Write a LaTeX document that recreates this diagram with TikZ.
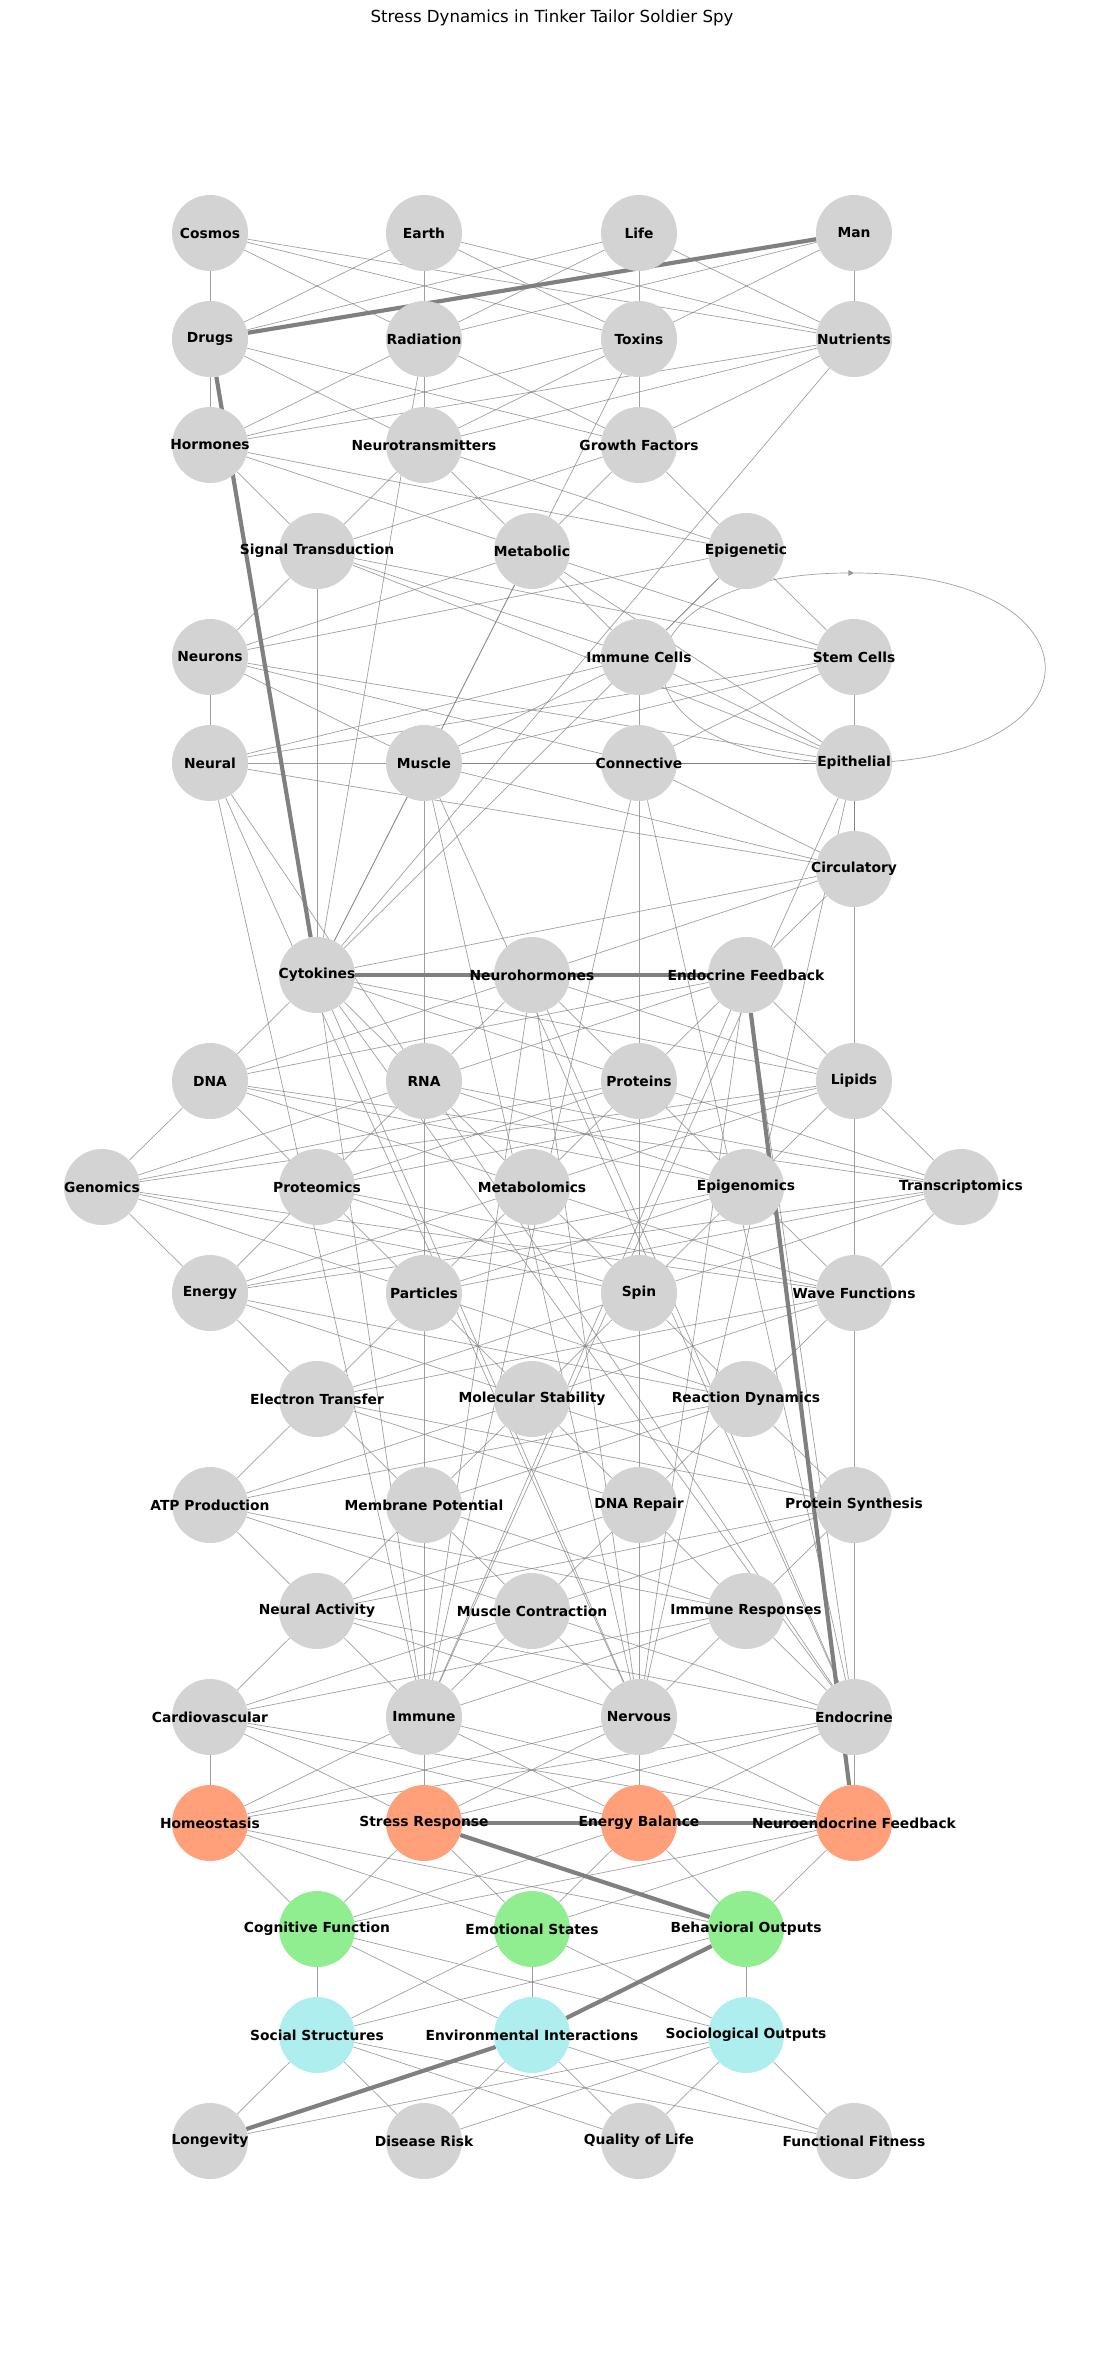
\documentclass[tikz,border=0pt]{standalone}
\usepackage{fontspec}
\setmainfont{DejaVu Sans}
\usetikzlibrary{arrows.meta, calc, backgrounds}
\definecolor{cNode}{HTML}{D3D3D3}
\definecolor{cStress}{HTML}{FFA07A}
\definecolor{cMind}{HTML}{90EE90}
\definecolor{cSocial}{HTML}{AFEEEE}
\definecolor{cLink}{HTML}{808080}
\tikzset{
	entity/.style     ={circle, fill=cNode, minimum size=19.3mm, inner sep=0pt},
	stressnode/.style ={entity, fill=cStress},
	mindnode/.style   ={entity, fill=cMind},
	socialnode/.style ={entity, fill=cSocial},
	every label/.style={font=\bfseries\fontsize{10}{12}\selectfont, inner sep=0pt},
	% connector styles
	tie/.style        ={draw=cLink, line width=0.5pt, opacity=0.75},
	pathway/.style    ={draw=cLink, line width=3pt},
}

\begin{document}
\begin{tikzpicture}[x=0.254mm, y=-0.254mm]
	\useasboundingbox (0,0) rectangle (1105,2353);
	\node[font=\fontsize{12}{14}\selectfont] (title) at (552,18) {Stress Dynamics in Tinker Tailor Soldier Spy};
	% origins
	\node[entity, label=center:Cosmos] (cosmos) at (210,233) {};
	\node[entity, label=center:Earth] (earth) at (424,233) {};
	\node[entity, label=center:Life] (life) at (639,233) {};
	\node[entity, label=center:Man] (man) at (854,233) {};
	% stressors
	\node[entity, label=center:Drugs] (drugs) at (210,339) {};
	\node[entity, label=center:Radiation] (radiation) at (424,339) {};
	\node[entity, label=center:Toxins] (toxins) at (639,339) {};
	\node[entity, label=center:Nutrients] (nutrients) at (854,339) {};
	% messengers
	\node[entity, label=center:Hormones] (hormones) at (210,445) {};
	\node[entity, label=center:Neurotransmitters] (neurotrans) at (424,445) {};
	\node[entity, label=center:Growth Factors] (growth) at (639,445) {};
	% pathways
	\node[entity, label=center:Signal Transduction] (signal) at (317,551) {};
	\node[entity, label=center:Metabolic] (metabolic) at (532,551) {};
	\node[entity, label=center:Epigenetic] (epigenetic) at (746,551) {};
	% cells
	\node[entity, label=center:Neurons] (neurons) at (210,657) {};
	\node[entity, label=center:Immune Cells] (immcells) at (639,657) {};
	\node[entity, label=center:Stem Cells] (stemcells) at (854,657) {};
	% tissues
	\node[entity, label=center:Neural] (neural) at (210,763) {};
	\node[entity, label=center:Muscle] (muscle) at (424,763) {};
	\node[entity, label=center:Connective] (connective) at (639,763) {};
	\node[entity, label=center:Epithelial] (epithelial) at (854,763) {};
	\node[entity, label=center:Circulatory] (circulatory) at (854,869) {};
	% signalling
	\node[entity, label=center:Cytokines] (cytokines) at (317,975) {};
	\node[entity, label=center:Neurohormones] (neurohorm) at (532,975) {};
	\node[entity, label=center:Endocrine Feedback] (endofb) at (746,975) {};
	% molecules
	\node[entity, label=center:DNA] (dna) at (210,1081) {};
	\node[entity, label=center:RNA] (rna) at (424,1081) {};
	\node[entity, label=center:Proteins] (proteins) at (639,1081) {};
	\node[entity, label=center:Lipids] (lipids) at (854,1081) {};
	% omics
	\node[entity, label=center:Genomics] (genomics) at (102,1187) {};
	\node[entity, label=center:Proteomics] (proteomics) at (317,1187) {};
	\node[entity, label=center:Metabolomics] (metabolomics) at (532,1187) {};
	\node[entity, label=center:Epigenomics] (epigenomics) at (746,1187) {};
	\node[entity, label=center:Transcriptomics] (transcript) at (961,1187) {};
	% physics
	\node[entity, label=center:Energy] (energy) at (210,1293) {};
	\node[entity, label=center:Particles] (particles) at (424,1293) {};
	\node[entity, label=center:Spin] (spin) at (639,1293) {};
	\node[entity, label=center:Wave Functions] (wavefn) at (854,1293) {};
	% chemistry
	\node[entity, label=center:Electron Transfer] (etransfer) at (317,1399) {};
	\node[entity, label=center:Molecular Stability] (molstab) at (532,1399) {};
	\node[entity, label=center:Reaction Dynamics] (reacdyn) at (746,1399) {};
	% processes
	\node[entity, label=center:ATP Production] (atp) at (210,1505) {};
	\node[entity, label=center:Membrane Potential] (membpot) at (424,1505) {};
	\node[entity, label=center:DNA Repair] (dnarepair) at (639,1505) {};
	\node[entity, label=center:Protein Synthesis] (protsynth) at (854,1505) {};
	% functions
	\node[entity, label=center:Neural Activity] (neuralact) at (317,1611) {};
	\node[entity, label=center:Muscle Contraction] (musclecon) at (532,1611) {};
	\node[entity, label=center:Immune Responses] (immresp) at (746,1611) {};
	% systems
	\node[entity, label=center:Cardiovascular] (cardio) at (210,1717) {};
	\node[entity, label=center:Immune] (immune) at (424,1717) {};
	\node[entity, label=center:Nervous] (nervous) at (639,1717) {};
	\node[entity, label=center:Endocrine] (endocrine) at (854,1717) {};
	% stress layer
	\node[stressnode, label=center:Homeostasis] (homeo) at (210,1823) {};
	\node[stressnode, label=center:Stress Response] (stressresp) at (424,1823) {};
	\node[stressnode, label=center:Energy Balance] (energybal) at (639,1823) {};
	\node[stressnode, label=center:Neuroendocrine Feedback] (neuroendo) at (854,1823) {};
	% mind
	\node[mindnode, label=center:Cognitive Function] (cognitive) at (317,1929) {};
	\node[mindnode, label=center:Emotional States] (emotional) at (532,1929) {};
	\node[mindnode, label=center:Behavioral Outputs] (behavioral) at (746,1929) {};
	% society
	\node[socialnode, label=center:Social Structures] (social) at (317,2035) {};
	\node[socialnode, label=center:Environmental Interactions] (environ) at (532,2035) {};
	\node[socialnode, label=center:Sociological Outputs] (sociological) at (746,2035) {};
	% outcomes
	\node[entity, label=center:Longevity] (longevity) at (210,2141) {};
	\node[entity, label=center:Disease Risk] (disease) at (424,2141) {};
	\node[entity, label=center:Quality of Life] (quality) at (639,2141) {};
	\node[entity, label=center:Functional Fitness] (fitness) at (854,2141) {};

	\begin{scope}[on background layer]
		\fill[white] (0,0) rectangle (1105,2353);
		% layer to layer
		\foreach \s in {cosmos,earth,life,man}
			\foreach \t in {drugs,radiation,toxins,nutrients}
				\draw[tie] (\s) -- (\t);
		\foreach \s in {drugs,radiation,toxins,nutrients}
			\foreach \t in {hormones,neurotrans,growth}
				\draw[tie] (\s) -- (\t);
		\foreach \s in {hormones,neurotrans,growth}
			\foreach \t in {signal,metabolic,epigenetic}
				\draw[tie] (\s) -- (\t);
		\foreach \s in {signal,metabolic,epigenetic}
			\foreach \t in {neurons,immcells,stemcells}
				\draw[tie] (\s) -- (\t);
		\foreach \s in {neurons,immcells,stemcells}
			\foreach \t in {neural,muscle,connective,epithelial}
				\draw[tie] (\s) -- (\t);
		\foreach \s in {neural,muscle,connective,epithelial}
			\draw[tie] (\s) -- (circulatory);
		\foreach \t in {cytokines,neurohorm,endofb}
			\draw[tie] (circulatory) -- (\t);
		\foreach \s in {cytokines,neurohorm,endofb}
			\foreach \t in {dna,rna,proteins,lipids}
				\draw[tie] (\s) -- (\t);
		\foreach \s in {dna,rna,proteins,lipids}
			\foreach \t in {genomics,proteomics,metabolomics,epigenomics,transcript}
				\draw[tie] (\s) -- (\t);
		\foreach \s in {genomics,proteomics,metabolomics,epigenomics,transcript}
			\foreach \t in {energy,particles,spin,wavefn}
				\draw[tie] (\s) -- (\t);
		\foreach \s in {energy,particles,spin,wavefn}
			\foreach \t in {etransfer,molstab,reacdyn}
				\draw[tie] (\s) -- (\t);
		\foreach \s in {etransfer,molstab,reacdyn}
			\foreach \t in {atp,membpot,dnarepair,protsynth}
				\draw[tie] (\s) -- (\t);
		\foreach \s in {atp,membpot,dnarepair,protsynth}
			\foreach \t in {neuralact,musclecon,immresp}
				\draw[tie] (\s) -- (\t);
		\foreach \s in {neuralact,musclecon,immresp}
			\foreach \t in {cardio,immune,nervous,endocrine}
				\draw[tie] (\s) -- (\t);
		\foreach \s in {cardio,immune,nervous,endocrine}
			\foreach \t in {homeo,stressresp,energybal,neuroendo}
				\draw[tie] (\s) -- (\t);
		\foreach \s in {homeo,stressresp,energybal,neuroendo}
			\foreach \t in {cognitive,emotional,behavioral}
				\draw[tie] (\s) -- (\t);
		\foreach \s in {cognitive,emotional,behavioral}
			\foreach \t in {social,environ,sociological}
				\draw[tie] (\s) -- (\t);
		\foreach \s in {social,environ,sociological}
			\foreach \t in {longevity,disease,quality,fitness}
				\draw[tie] (\s) -- (\t);
		% long links
		\foreach \s in {radiation,toxins,nutrients,signal,metabolic,epigenetic}
			\draw[tie] (\s) -- (cytokines);
		\foreach \s in {signal,metabolic,neural,muscle,connective}
			\draw[tie] (\s) -- (epithelial);
		\foreach \s in {neural,muscle,connective,epithelial,cytokines,neurohorm,endofb}
			\foreach \t in {immune,nervous,endocrine}
				\draw[tie] (\s) -- (\t);
		\draw[tie, -{Triangle[length=4pt, width=4pt]}] ($(epithelial)+(0,-190)$)
			.. controls +(255,0) and +(255,0) .. (epithelial.center)
			.. controls +(-255,0) and +(-255,0) .. ($(epithelial)+(0,-190)$);
		% highlighted route
		\foreach \s/\t in {man/drugs, drugs/cytokines, cytokines/endofb, endofb/neuroendo,
			neuroendo/stressresp, stressresp/behavioral, behavioral/environ, environ/longevity}
			\draw[pathway] (\s) -- (\t);
	\end{scope}
\end{tikzpicture}
\end{document}
